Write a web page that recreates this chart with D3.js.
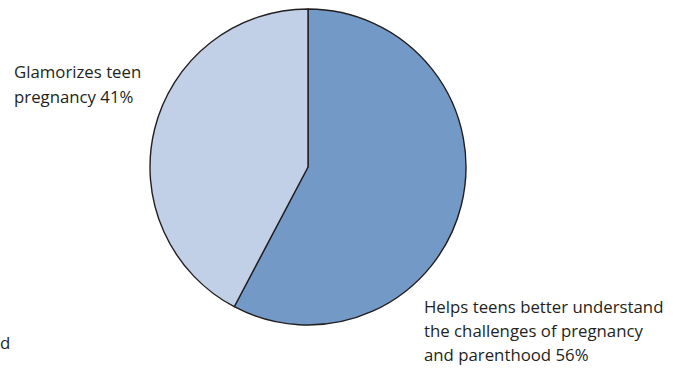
<!DOCTYPE html>
<html>
<head>
<meta charset="utf-8">
<script src="https://cdn.jsdelivr.net/npm/d3@7"></script>
<style>
  html, body { margin: 0; padding: 0; background: #fff; }
  svg { display: block; }
  text { font-family: "Open Sans", "Noto Sans", sans-serif; fill: #231f20; }
</style>
</head>
<body>
<svg id="chart" width="680" height="371"></svg>
<script>
// Survey responses: what the show does for teens
const categories = [
  "Helps teens better understand the challenges of pregnancy and parenthood",
  "Glamorizes teen pregnancy"
];
const values = [56, 41];
const colors = ["#7399c7", "#c2d0e7"];
const labelLines = [
  ["Helps teens better understand", "the challenges of pregnancy", "and parenthood 56%"],
  ["Glamorizes teen", "pregnancy 41%"]
];

const svg = d3.select("#chart");
const cx = 308, cy = 167, r = 158;

const pie = d3.pie().sort(null).value(d => d);
const arc = d3.arc().innerRadius(0).outerRadius(r);

const g = svg.append("g").attr("transform", `translate(${cx},${cy})`);
g.selectAll("path")
  .data(pie(values))
  .join("path")
  .attr("d", arc)
  .attr("fill", (d, i) => colors[i])
  .attr("stroke", "#231f20")
  .attr("stroke-width", 1.4)
  .attr("stroke-linejoin", "round");

// Labels
const labelPos = [
  { x: 424, y: 313, lh: 24 },
  { x: 14, y: 78, lh: 25 }
];
labelLines.forEach((lines, i) => {
  const t = svg.append("text")
    .attr("x", labelPos[i].x)
    .attr("y", labelPos[i].y)
    .attr("font-size", 16.8);
  lines.forEach((ln, j) => {
    t.append("tspan")
      .attr("x", labelPos[i].x)
      .attr("dy", j === 0 ? 0 : labelPos[i].lh)
      .text(ln);
  });
});

// Partial label at the left edge
svg.append("text")
  .attr("x", 0)
  .attr("y", 349)
  .attr("font-size", 16.8)
  .text("d");
</script>
</body>
</html>
